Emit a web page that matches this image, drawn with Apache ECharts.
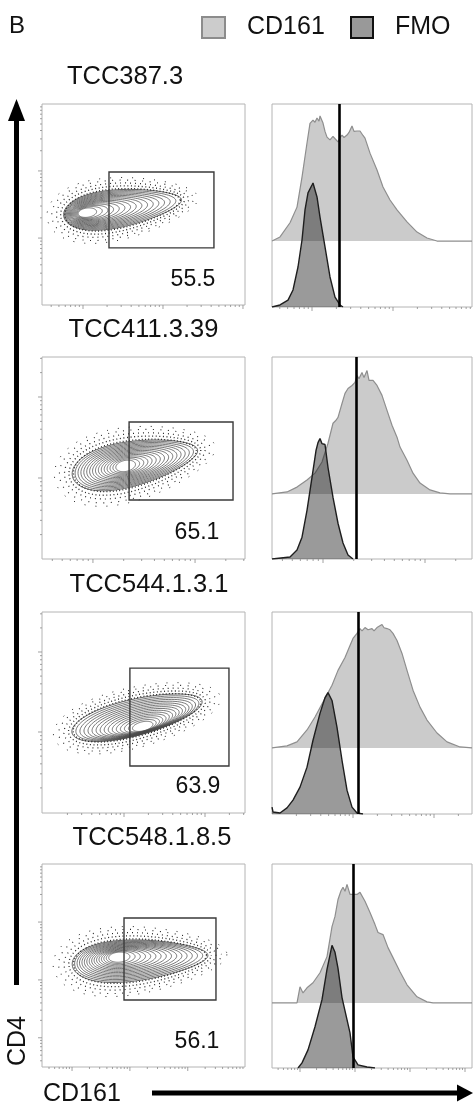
<!DOCTYPE html>
<html>
<head>
<meta charset="utf-8">
<script src="https://cdn.jsdelivr.net/npm/echarts@6/dist/echarts.min.js"></script>
<style>
  html, body { margin: 0; padding: 0; background: #fff; }
  #chart { width: 473px; height: 1105px; }
</style>
</head>
<body>
<div id="chart"></div>
<script>
// ---- clones and gate statistics ----
const clones = ['TCC387.3', 'TCC411.3.39', 'TCC544.1.3.1', 'TCC548.1.8.5'];
const gatePercent = ['55.5', '65.1', '63.9', '56.1'];

// CD161+ gate rectangles (plot units, CD161 on x, CD4 on y)
const gateX0 = [33.0, 42.9, 43.3, 40.4];
const gateX1 = [84.7, 94.1, 92.1, 85.7];
const gateY0 = [28.4, 29.2, 23.4, 33.0];
const gateY1 = [66.2, 67.8, 72.1, 73.4];

// population outline (outermost contour) and densest point
const popX = [39.7, 45.8, 46.8, 48.3];
const popY = [48.3, 47.5, 47.8, 52.7];
const popRx = [29.3, 31.5, 33.0, 33.5];
const popRy = [9.2, 10.9, 9.0, 9.9];
const popTilt = [8, 12, 14, 4];
const popSkew = [0.3, 0.25, 0.1, 0.3];
const coreX = [21.2, 40.9, 49.8, 37.4];
const coreY = [45.8, 46.0, 42.8, 54.2];

// histogram threshold on CD161
const histGate = [33.5, 42, 43, 40.5];

// CD161 stained histograms [channel, count]
const cd161Hist = [
  [[0,0],[4,2],[9,9],[12.5,16.7],[15,31.5],[17.5,48.3],[19,58],[20.5,59.6],[21.5,58.5],[22.5,60.6],[23.5,59],[24,61.6],[25.5,58.1],[26.5,54],[27.5,51.2],[28.5,52],[29,49.8],[30.5,51.5],[31.5,50.7],[33,48.8],[34,51],[35,52.2],[36,51],[37.5,52.2],[38.5,53.5],[40,56.7],[41,54],[42.5,54.2],[44,54.2],[45.5,52],[46.5,50.7],[49,43.3],[52.5,35],[55.5,26.6],[59,20.2],[62.5,15.3],[67.5,9.4],[72.5,4.4],[77.5,1.5],[82.5,0],[100,0]],
  [[0,0],[7.5,1],[12.5,3.4],[17.5,6.9],[21.5,10.3],[25,15.8],[28,25.1],[30.5,35],[32,36.5],[33,37.9],[35,44.8],[36.5,49.8],[38,52.2],[40,53.7],[41.5,55.2],[42.5,58.6],[43.5,57.1],[45,60.1],[46,57.6],[47.5,61.1],[48.5,56.2],[50.5,56.2],[52.5,53.7],[55,48.8],[57.5,41.4],[60,34],[62.5,28.1],[64,23.2],[67.5,16.7],[70.5,10.3],[74,5.4],[79,2],[84,0.5],[89,0],[100,0]],
  [[0,0],[7.5,1],[12.5,3],[17.5,8.9],[21.5,15.3],[25.5,22.7],[30,31],[33,38.4],[36.5,44.8],[39,50.7],[40.5,54.2],[42.5,56.7],[44,59.1],[45,58],[46.5,59.6],[48,58.5],[50,59.1],[51,58],[52.5,59.6],[53.5,59],[55,61.1],[56,59.5],[57.5,59.1],[59,58.5],[60.5,56.7],[62.5,53.2],[65,46.8],[67.5,38.4],[70.5,28.6],[74,20.2],[77.5,13.8],[82.5,7.4],[87.5,3],[94,0.5],[100,0]],
  [[0,0],[12.5,0],[14,7.9],[15.5,4.9],[17.5,7.4],[20.5,9.9],[24,14.8],[27.5,22.7],[30,37.4],[31.5,42.4],[33,50.7],[34.5,55],[35.5,56.7],[36.5,54.7],[37.5,58.1],[39,53.2],[40.5,53.2],[42.5,53.2],[44,54.2],[46.5,49.8],[49,44.3],[51.5,38.4],[53,34.5],[55.5,33.5],[58,27.1],[60.5,22.2],[64,15.3],[67.5,8.9],[72.5,3],[77.5,0.5],[80.5,0],[100,0]]
];

// FMO control histograms [channel, count]
const fmoHist = [
  [[0,0],[4,1],[8,3.4],[10.5,8.4],[13,19.7],[15,33],[16.5,47.8],[18,56.2],[20,60.1],[20.5,61.1],[22.5,54.2],[24,44.3],[26.5,29.6],[29,14.8],[31.5,4.9],[34,1],[35.5,0]],
  [[0,0],[9,1],[12.5,4.4],[15,10.8],[17.5,24.1],[20,40.4],[22,53.7],[23,57.6],[24,59.6],[25,57.1],[25.5,57.6],[26.5,56.7],[28,45.3],[30.5,30.5],[33,17.7],[35.5,7.9],[38,2],[40.5,0]],
  [[0,3.4],[0.5,1],[4,0.5],[7.5,3],[10.5,6.9],[14,13.3],[17.5,23.2],[20.5,36.5],[24,49.8],[26.5,57.6],[28,60.1],[30,56.2],[32.5,42.9],[35,26.6],[37.5,11.8],[40,3.4],[42.5,0.5],[45.5,0]],
  [[13,0],[15,2.5],[18,8.9],[21.5,20.2],[25,33.5],[27.5,48.3],[30,60.1],[31.5,56.7],[33,48.8],[35,34.5],[36.5,28],[39,17.2],[40.5,5.4],[43,1.5],[47.5,0.5],[51.5,0]]
];

// decade tick positions
const dotXTicks = [[20.2, 59.6], [25.1, 75.4], [40.4, 80.3], [14.8, 43.3, 71.9]];
const dotYTicks = [[33.3, 66.7], [40.1, 80.2], [40.3, 80.1], [42.9, 71.4]];
const histXTicks = [[20, 60.5], [25.5, 76.5], [40.5, 81], [14, 41.5, 71.5]];

// ---- layout ----
const FONT = '"Liberation Sans", Arial, Helvetica, sans-serif';
const rowTop = [104, 357, 612, 864];
const dotH = [201, 202, 201, 203];
const histH = [203, 202, 202, 204];
const baseFrac = [0.325, 0.322, 0.327, 0.319];   // offset of the stained histogram
const titleX = [125, 143.5, 149, 152];
const titleY = [77, 330, 585, 838];
const pctX = [193, 197, 198, 197];
const pctY = [280, 533, 787, 1042];
const CONTOUR_LEVELS = 16;
// speckle rings: [x scale, y scale, dash gap, line width]
const SPECKLE = [[0.98, 1.05, 2.2, 1.3], [1.05, 1.2, 2.6, 1.3], [1.12, 1.36, 4.0, 1.2], [1.2, 1.52, 6.5, 1.1], [1.28, 1.66, 10, 1.0]];

function decadeTicks(majors) {
  const d = majors.length > 1 ? majors[1] - majors[0] : 40;
  const out = [];
  for (let j = -4; j <= 4; j++) {
    for (let k = 1; k <= 9; k++) {
      const p = majors[0] + d * (j + Math.log10(k));
      if (p > 0.6 && p < 99.4) out.push([p, k === 1 ? 1 : 0]);
    }
  }
  return out;
}

function ringPoints(api, cx, cy, rx, ry, tiltDeg, skew) {
  const a = tiltDeg * Math.PI / 180, ca = Math.cos(a), sa = Math.sin(a);
  const pts = [];
  for (let i = 0; i < 90; i++) {
    const th = i / 90 * 2 * Math.PI;
    const u = rx * Math.cos(th);
    const v = ry * Math.sin(th) * (1 - skew * Math.cos(th));
    pts.push(api.coord([cx + u * ca - v * sa, cy + u * sa + v * ca]));
  }
  return pts;
}

const grids = [], xAxes = [], yAxes = [], series = [];
const hiddenAxis = {
  axisLine: { show: false }, axisTick: { show: false },
  axisLabel: { show: false }, splitLine: { show: false }
};

for (let r = 0; r < 4; r++) {
  const gDot = 2 * r, gHist = 2 * r + 1;
  grids.push({ left: 42, top: rowTop[r], width: 203, height: dotH[r], show: true,
               borderColor: '#b4b4b4', borderWidth: 1, backgroundColor: 'transparent' });
  grids.push({ left: 272, top: rowTop[r], width: 200, height: histH[r], show: true,
               borderColor: '#b4b4b4', borderWidth: 1, backgroundColor: 'transparent' });

  const xDot = xAxes.length;
  xAxes.push(Object.assign({ type: 'value', gridIndex: gDot, min: 0, max: 100 }, hiddenAxis));
  const xHist = xAxes.length;
  xAxes.push(Object.assign({ type: 'value', gridIndex: gHist, min: 0, max: 100 }, hiddenAxis));

  const yDot = yAxes.length;
  yAxes.push(Object.assign({ type: 'value', gridIndex: gDot, min: 0, max: 100 }, hiddenAxis));
  const yFmo = yAxes.length;
  yAxes.push(Object.assign({ type: 'value', gridIndex: gHist, min: 0, max: 100 }, hiddenAxis));
  const yCd = yAxes.length;
  yAxes.push(Object.assign({ type: 'value', gridIndex: gHist,
    min: -baseFrac[r] * 100, max: (1 - baseFrac[r]) * 100 }, hiddenAxis));

  // speckle of single events around the population
  series.push({
    type: 'custom', xAxisIndex: xDot, yAxisIndex: yDot, clip: true, silent: true, z: 4,
    data: SPECKLE.map((s, i) => [i]),
    renderItem: function (params, api) {
      const i = api.value(0), s = SPECKLE[i];
      return {
        type: 'polygon',
        shape: { points: ringPoints(api, popX[r], popY[r], popRx[r] * s[0],
                 popRy[r] * s[1], popTilt[r], popSkew[r]) },
        style: { fill: 'transparent', stroke: '#262626', lineWidth: s[3],
                 lineDash: [1, s[2]], lineDashOffset: i * 1.7 + r }
      };
    }
  });

  // density contours, outermost first
  const levels = [];
  for (let k = 0; k < CONTOUR_LEVELS; k++) levels.push([k]);
  series.push({
    type: 'custom', xAxisIndex: xDot, yAxisIndex: yDot, clip: true, silent: true, z: 3,
    data: levels,
    renderItem: function (params, api) {
      const t = api.value(0) / CONTOUR_LEVELS;
      const cx = popX[r] + (coreX[r] - popX[r]) * t;
      const cy = popY[r] + (coreY[r] - popY[r]) * t;
      return {
        type: 'polygon',
        shape: { points: ringPoints(api, cx, cy, popRx[r] * (1 - 0.9 * t),
                 popRy[r] * (1 - 0.8 * t), popTilt[r], popSkew[r] * (1 - t)) },
        style: { fill: 'transparent', stroke: t < 0.05 ? '#333' : '#4a4a4a', lineWidth: 0.75 }
      };
    }
  });

  // CD161+ gate
  series.push({
    type: 'custom', xAxisIndex: xDot, yAxisIndex: yDot, clip: false, silent: true, z: 5,
    data: [[gateX0[r], gateY0[r], gateX1[r], gateY1[r]]],
    renderItem: function (params, api) {
      const p0 = api.coord([api.value(0), api.value(1)]);
      const p1 = api.coord([api.value(2), api.value(3)]);
      return {
        type: 'rect',
        shape: { x: p0[0], y: p1[1], width: p1[0] - p0[0], height: p0[1] - p1[1] },
        style: { fill: 'transparent', stroke: '#3a3a3a', lineWidth: 1.4 }
      };
    }
  });

  // dot plot axis ticks
  const dotTicks = decadeTicks(dotXTicks[r]).map(d => [d[0], d[1], 0])
    .concat(decadeTicks(dotYTicks[r]).map(d => [d[0], d[1], 1]));
  series.push({
    type: 'custom', xAxisIndex: xDot, yAxisIndex: yDot, clip: false, silent: true, z: 6,
    data: dotTicks,
    renderItem: function (params, api) {
      const v = api.value(0), major = api.value(1), axis = api.value(2);
      const len = major ? 4 : 2;
      if (axis === 0) {
        const p = api.coord([v, 0]);
        return { type: 'line', shape: { x1: p[0], y1: p[1], x2: p[0], y2: p[1] + len },
                 style: { stroke: '#8a8a8a', lineWidth: 0.8 } };
      }
      const p = api.coord([0, v]);
      return { type: 'line', shape: { x1: p[0] - len, y1: p[1], x2: p[0], y2: p[1] },
               style: { stroke: '#8a8a8a', lineWidth: 0.8 } };
    }
  });

  // CD161 stained histogram, offset above the FMO
  series.push({
    name: 'CD161', type: 'line', xAxisIndex: xHist, yAxisIndex: yCd, z: 2,
    data: cd161Hist[r], showSymbol: false, smooth: false, silent: true,
    lineStyle: { color: '#8e8e8e', width: 1.2 },
    areaStyle: { color: '#cbcbcb', opacity: 1 }
  });

  // FMO control histogram with the positivity threshold
  series.push({
    name: 'FMO', type: 'line', xAxisIndex: xHist, yAxisIndex: yFmo, z: 3,
    data: fmoHist[r], showSymbol: false, smooth: false, silent: true,
    lineStyle: { color: '#1e1e1e', width: 1.4 },
    areaStyle: { color: 'rgba(31,31,31,0.45)', opacity: 1 },
    markLine: {
      silent: true, symbol: ['none', 'none'], label: { show: false }, z: 10,
      lineStyle: { color: '#000', width: 2.6, type: 'solid' },
      data: [{ xAxis: histGate[r] }]
    }
  });

  // histogram axis ticks
  series.push({
    type: 'custom', xAxisIndex: xHist, yAxisIndex: yFmo, clip: false, silent: true, z: 6,
    data: decadeTicks(histXTicks[r]),
    renderItem: function (params, api) {
      const p = api.coord([api.value(0), 0]);
      const len = api.value(1) ? 4 : 2;
      return { type: 'line', shape: { x1: p[0], y1: p[1], x2: p[0], y2: p[1] + len },
               style: { stroke: '#8a8a8a', lineWidth: 0.8 } };
    }
  });
}

// ---- text, legend and axis arrows ----
const graphic = [
  { type: 'text', x: 9, y: 26, style: { text: 'B', font: '24px ' + FONT, fill: '#111',
    textAlign: 'left', textVerticalAlign: 'middle' } },
  { type: 'rect', shape: { x: 202, y: 17, width: 23, height: 21 },
    style: { fill: '#cccccc', stroke: '#8c8c8c', lineWidth: 2 } },
  { type: 'text', x: 247, y: 27, style: { text: 'CD161', font: '25px ' + FONT, fill: '#111',
    textAlign: 'left', textVerticalAlign: 'middle' } },
  { type: 'rect', shape: { x: 351, y: 17, width: 22, height: 21 },
    style: { fill: '#999999', stroke: '#111', lineWidth: 2 } },
  { type: 'text', x: 395, y: 27, style: { text: 'FMO', font: '25px ' + FONT, fill: '#111',
    textAlign: 'left', textVerticalAlign: 'middle' } },
  // CD4 arrow
  { type: 'rect', shape: { x: 14, y: 118, width: 5, height: 867 }, style: { fill: '#000' } },
  { type: 'polygon', shape: { points: [[8, 121], [25, 121], [16.5, 99]] }, style: { fill: '#000' } },
  { type: 'text', x: 18, y: 1041, rotation: Math.PI / 2,
    style: { text: 'CD4', font: '25px ' + FONT, fill: '#111', textAlign: 'center', textVerticalAlign: 'middle' } },
  // CD161 arrow
  { type: 'rect', shape: { x: 152, y: 1090.5, width: 308, height: 5 }, style: { fill: '#000' } },
  { type: 'polygon', shape: { points: [[457, 1084.5], [457, 1101.5], [473, 1093]] }, style: { fill: '#000' } },
  { type: 'text', x: 43, y: 1094, style: { text: 'CD161', font: '25px ' + FONT, fill: '#111',
    textAlign: 'left', textVerticalAlign: 'middle' } }
];
for (let r = 0; r < 4; r++) {
  graphic.push({ type: 'text', x: titleX[r], y: titleY[r], style: { text: clones[r],
    font: '25.5px ' + FONT, fill: '#111', textAlign: 'center', textVerticalAlign: 'middle' } });
  graphic.push({ type: 'text', x: pctX[r], y: pctY[r], z: 20, style: { text: gatePercent[r],
    font: '23px ' + FONT, fill: '#111', textAlign: 'center', textVerticalAlign: 'middle' } });
}

const chart = echarts.init(document.getElementById('chart'));
chart.setOption({
  animation: false,
  backgroundColor: '#fff',
  grid: grids,
  xAxis: xAxes,
  yAxis: yAxes,
  series: series,
  graphic: graphic
});
</script>
</body>
</html>
